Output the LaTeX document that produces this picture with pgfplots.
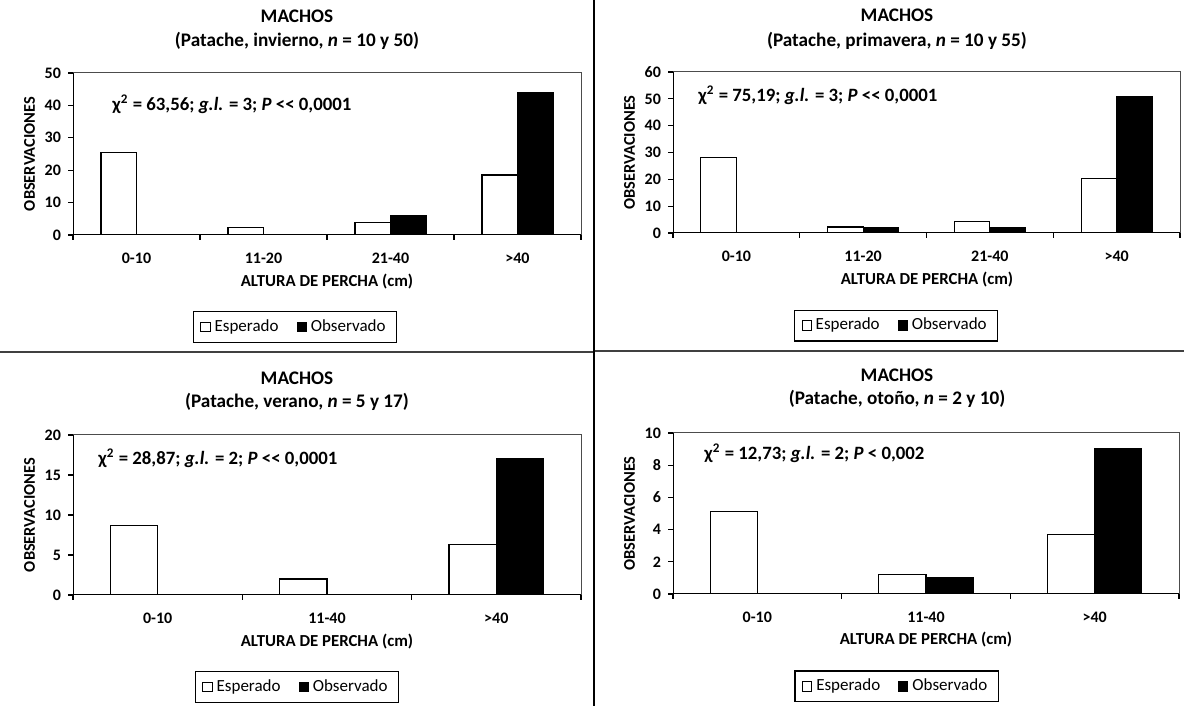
\documentclass[border=0pt]{standalone}
\usepackage{pgfplots}
\pgfplotsset{compat=1.18}
\usepackage{fontspec}
\setmainfont{Carlito}
\newcommand{\tfont}{\fontsize{9.6}{12}\selectfont\bfseries}
\newcommand{\cfont}{\fontsize{9.4}{11}\selectfont\bfseries}
\newcommand{\lfont}{\fontsize{8}{10}\selectfont\bfseries}
\newcommand{\xlfont}{\fontsize{8.4}{10}\selectfont\bfseries}
\pgfplotsset{
  panel/.style={
    scale only axis, anchor=south west,
    axis line style={draw=black!70, line width=0.5pt},
    tick align=outside, xtick pos=left, ytick pos=left,
    major tick length=2.5pt,
    tick style={black, line width=0.6pt},
    ymin=0, xmin=-0.5,
    ybar, bar width=0.28,
    /pgf/number format/assume math mode=true,
    tick label style={font=\lfont},
    xticklabels={},
    extra x tick style={major tick length=0pt, xticklabel style={yshift=-5.5pt}},
    ylabel={OBSERVACIONES}, ylabel style={font=\fontsize{8.2}{10}\selectfont\bfseries, yshift=-2pt},
    legend columns=2,
    legend style={draw=black, line width=0.6pt, font=\fontsize{8.5}{10}\selectfont,
      inner xsep=3.5pt, inner ysep=2pt, anchor=center,
      /tikz/every even column/.append style={column sep=7pt}},
    legend image code/.code={\draw[#1, line width=0.5pt] (0.6pt,-2.3pt) rectangle (5.2pt,2.3pt);},
  },
  esp/.style={draw=black, fill=white, line width=0.6pt, bar shift=-0.14},
  obs/.style={draw=black, fill=black, line width=0.6pt, bar shift=0.14},
}
\begin{document}
\begin{tikzpicture}
\useasboundingbox (0,0) rectangle (592pt,353pt);
% separators
\draw[black!75, line width=1pt] (0pt,177.15pt) -- (297pt,177.15pt);
\draw[black!75, line width=1pt] (297pt,177.65pt) -- (592pt,177.65pt);
\draw[black, line width=1.1pt] (297pt,0pt) -- (297pt,353pt);

% Panel 1
\begin{axis}[panel, at={(36.5pt,235.5pt)}, width=254pt, height=81pt,
  xmax=3.5, ymax=50, ytick={0,10,...,50},
  xtick={-0.5,0.5,1.5,2.5,3.5},
  extra x ticks={0,1,2,3}, extra x tick labels={0-10,11-20,21-40,>40},
  legend style={at={(0.437,-0.568)}}]
\addplot[esp] coordinates {(0,25.5) (1,2.2) (2,3.8) (3,18.5)};
\addplot[obs] coordinates {(0,0) (1,0) (2,6) (3,44)};
\legend{Esperado,Observado}
\draw[black, line width=0.9pt] (rel axis cs:0,1) -- (rel axis cs:0,0) -- (rel axis cs:1,0);
\end{axis}
\node[font=\tfont, anchor=base] at (148.5pt,341.5pt) {MACHOS};
\node[font=\tfont, anchor=base] at (148.5pt,329.5pt) {(Patache, invierno, \textit{n} = 10 y 50)};
\node[font=\xlfont, anchor=base] at (163.5pt,209.5pt) {ALTURA DE PERCHA (cm)};
\node[font=\cfont, anchor=base west, inner sep=0pt] at (56pt,297.5pt) {χ\textsuperscript{2} = 63,56; \textit{g.l.} = 3; \textit{P} <\kern0pt< 0,0001};

% Panel 2
\begin{axis}[panel, at={(336.5pt,236.5pt)}, width=253.5pt, height=80.5pt,
  xmax=3.5, ymax=60, ytick={0,10,...,60},
  xtick={-0.5,0.5,1.5,2.5,3.5},
  extra x ticks={0,1,2,3}, extra x tick labels={0-10,11-20,21-40,>40},
  legend style={at={(0.44,-0.575)}}]
\addplot[esp] coordinates {(0,28.2) (1,2.2) (2,4.3) (3,20.4)};
\addplot[obs] coordinates {(0,0) (1,2) (2,2) (3,51)};
\legend{Esperado,Observado}
\draw[black, line width=0.9pt] (rel axis cs:0,1) -- (rel axis cs:0,0) -- (rel axis cs:1,0);
\end{axis}
\node[font=\tfont, anchor=base] at (448.5pt,342pt) {MACHOS};
\node[font=\tfont, anchor=base] at (448.5pt,329.5pt) {(Patache, primavera, \textit{n} = 10 y 55)};
\node[font=\xlfont, anchor=base] at (463.5pt,210.5pt) {ALTURA DE PERCHA (cm)};
\node[font=\cfont, anchor=base west, inner sep=0pt] at (349pt,302pt) {χ\textsuperscript{2} = 75,19; \textit{g.l.} = 3; \textit{P} <\kern0pt< 0,0001};

% Panel 3
\begin{axis}[panel, at={(36.5pt,55.5pt)}, width=254pt, height=80pt,
  xmax=2.5, ymax=20, ytick={0,5,...,20},
  xtick={-0.5,0.5,1.5,2.5},
  extra x ticks={0,1,2}, extra x tick labels={0-10,11-40,>40},
  legend style={at={(0.441,-0.575)}}]
\addplot[esp] coordinates {(0,8.7) (1,2.0) (2,6.3)};
\addplot[obs] coordinates {(0,0) (1,0) (2,17)};
\legend{Esperado,Observado}
\draw[black, line width=0.9pt] (rel axis cs:0,1) -- (rel axis cs:0,0) -- (rel axis cs:1,0);
\end{axis}
\node[font=\tfont, anchor=base] at (148.5pt,160.5pt) {MACHOS};
\node[font=\tfont, anchor=base] at (148.5pt,149pt) {(Patache, verano, \textit{n} = 5 y 17)};
\node[font=\xlfont, anchor=base] at (163.5pt,29.5pt) {ALTURA DE PERCHA (cm)};
\node[font=\cfont, anchor=base west, inner sep=0pt] at (49pt,120.5pt) {χ\textsuperscript{2} = 28,87; \textit{g.l.} = 2; \textit{P} <\kern0pt< 0,0001};

% Panel 4
\begin{axis}[panel, at={(336.5pt,56pt)}, width=253pt, height=80.5pt,
  xmax=2.5, ymax=10, ytick={0,2,...,10},
  xtick={-0.5,0.5,1.5,2.5},
  extra x ticks={0,1,2}, extra x tick labels={0-10,11-40,>40},
  legend style={at={(0.442,-0.5745)}}]
\addplot[esp] coordinates {(0,5.1) (1,1.2) (2,3.7)};
\addplot[obs] coordinates {(0,0) (1,1) (2,9)};
\legend{Esperado,Observado}
\draw[black, line width=0.9pt] (rel axis cs:0,1) -- (rel axis cs:0,0) -- (rel axis cs:1,0);
\end{axis}
\node[font=\tfont, anchor=base] at (448.5pt,162pt) {MACHOS};
\node[font=\tfont, anchor=base] at (448.5pt,150.5pt) {(Patache, otoño, \textit{n} = 2 y 10)};
\node[font=\xlfont, anchor=base] at (463pt,30.5pt) {ALTURA DE PERCHA (cm)};
\node[font=\cfont, anchor=base west, inner sep=0pt] at (352pt,123pt) {χ\textsuperscript{2} = 12,73; \textit{g.l.} = 2; \textit{P} < 0,002};
\end{tikzpicture}
\end{document}
